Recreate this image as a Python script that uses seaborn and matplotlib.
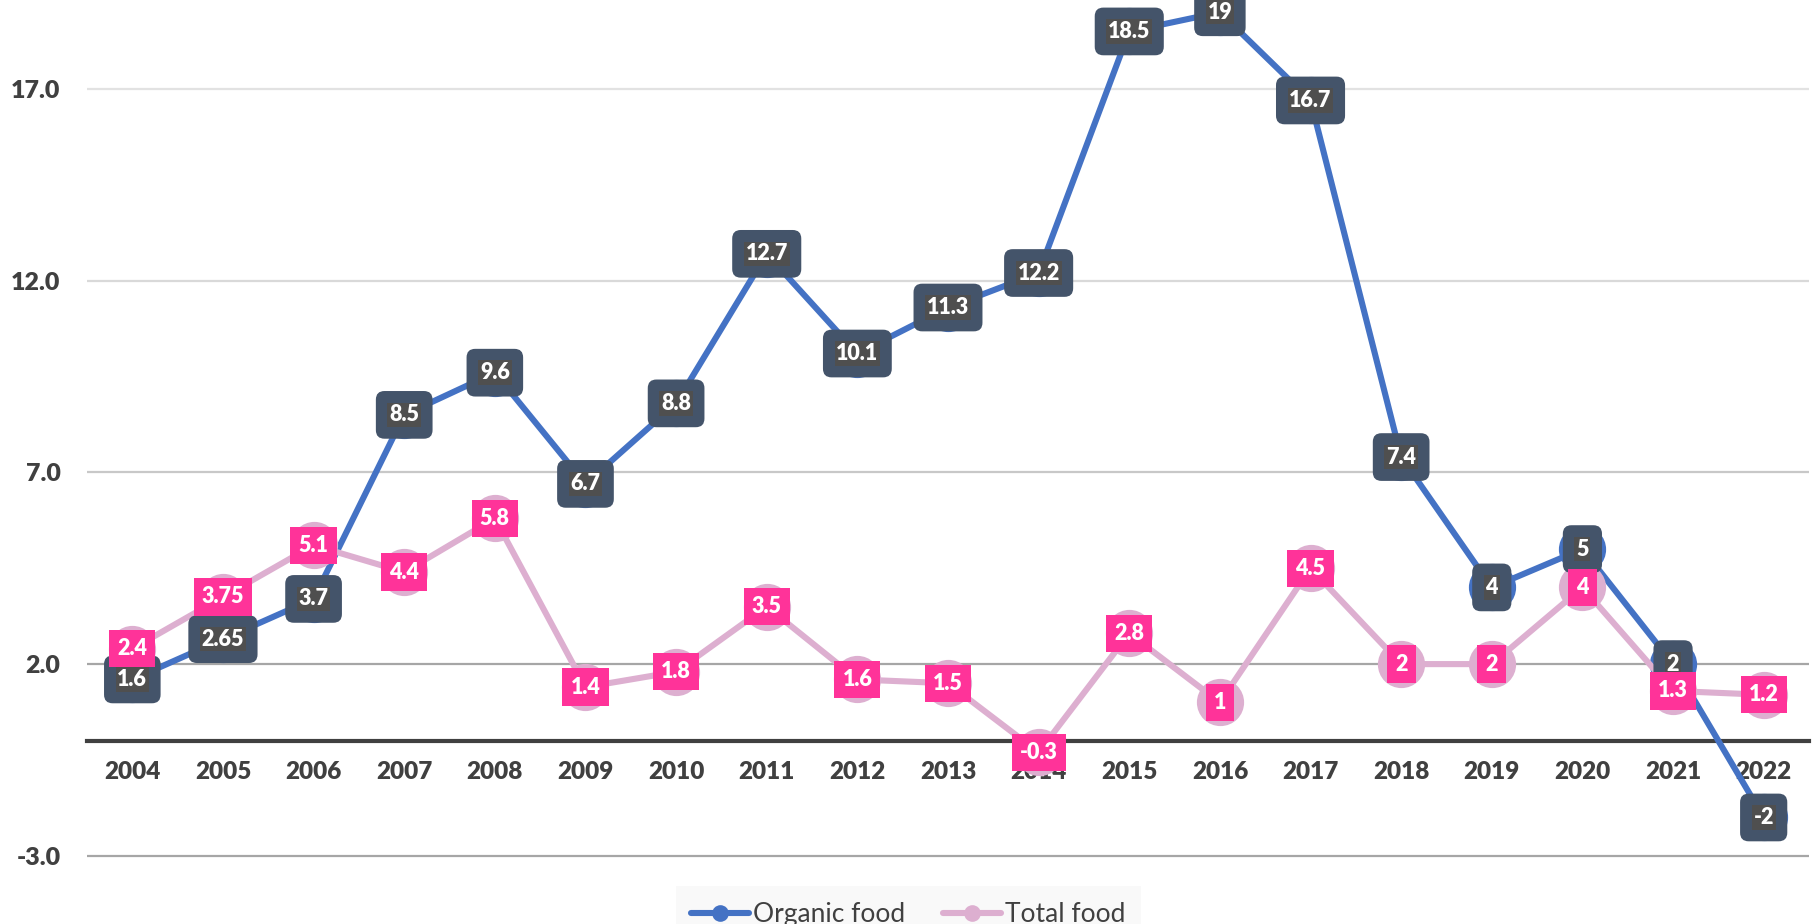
import pandas as pd
import matplotlib.pyplot as plt
import seaborn as sns
from matplotlib.lines import Line2D

# data
years = list(range(2004, 2023))
organic = [1.6, 2.65, 3.7, 8.5, 9.6, 6.7, 8.8, 12.7, 10.1, 11.3, 12.2,
           18.5, 19, 16.7, 7.4, 4, 5, 2, -2]
total = [2.4, 3.75, 5.1, 4.4, 5.8, 1.4, 1.8, 3.5, 1.6, 1.5, -0.3,
         2.8, 1, 4.5, 2, 2, 4, 1.3, 1.2]
series_names = ['Organic food', 'Total food']
y_ticks = [-3.0, 2.0, 7.0, 12.0, 17.0]

# long form table for seaborn
df = pd.DataFrame({
    'year': years * 2,
    'value': organic + total,
    'series': [series_names[0]] * len(years) + [series_names[1]] * len(years),
})

sns.set_theme(style='white')
plt.rcParams['font.family'] = ['Lato', 'DejaVu Sans']

palette = {'Organic food': '#4472C4', 'Total food': '#DDAFD0'}
text_col = '#404040'

fig = plt.figure(figsize=(18.2, 9.24), dpi=100)
ax = fig.add_axes([87 / 1820, 1 - 870 / 924, 1722 / 1820, 870 / 924])

sns.lineplot(data=df, x='year', y='value', hue='series', palette=palette,
             hue_order=series_names, marker='o', markersize=34,
             markeredgewidth=0, linewidth=4.4, legend=False, ax=ax, zorder=3)

ax.set_xlim(2003.5, 2022.5)
ax.set_ylim(-3.37, 19.32)

# gridlines get darker towards the bottom
grid_cols = ['#A6A6A6', '#A6A6A6', '#C8C8C8', '#D9D9D9', '#E2E2E2']
for t, c in zip(y_ticks, grid_cols):
    ax.axhline(t, color=c, lw=1.6, zorder=1)

for s in ['left', 'right', 'top']:
    ax.spines[s].set_visible(False)
ax.spines['bottom'].set_position(('data', 0))
ax.spines['bottom'].set_color(text_col)
ax.spines['bottom'].set_linewidth(3)
ax.spines['bottom'].set_zorder(2.5)

ax.set_xticks(years)
ax.set_xticklabels([str(y) for y in years])
ax.set_yticks(y_ticks)
ax.set_yticklabels([f'{t:.1f}' for t in y_ticks])
ax.tick_params(axis='x', length=0, pad=14.5, labelsize=17.5, labelcolor=text_col)
ax.tick_params(axis='y', length=0, pad=19, labelsize=18, labelcolor=text_col)
for lab in ax.get_xticklabels() + ax.get_yticklabels():
    lab.set_fontweight('heavy')
ax.set_xlabel('')
ax.set_ylabel('')

# data labels
for x, v in zip(years, organic):
    ax.text(x, v, f'{v:g}', ha='center', va='center', fontsize=15.5,
            fontweight='heavy', color='white', zorder=5, clip_on=False,
            bbox=dict(boxstyle='round,pad=0.62,rounding_size=0.4',
                      fc='#44546A', ec='none'))
    ax.text(x, v, f'{v:g}', ha='center', va='center', fontsize=15.5,
            fontweight='heavy', color='white', zorder=5.1, clip_on=False,
            bbox=dict(boxstyle='square,pad=0.08', fc='#4F4F4F', ec='none'))

for x, v in zip(years, total):
    ax.text(x, v, f'{v:g}', ha='center', va='center', fontsize=15.5,
            fontweight='heavy', color='white', zorder=6, clip_on=False,
            bbox=dict(boxstyle='square,pad=0.38', fc='#FF3399', ec='none'))

handles = [Line2D([0], [0], color=palette[n], lw=4.4, marker='o', markersize=12,
                  markeredgewidth=0) for n in series_names]
leg = fig.legend(handles, series_names, loc='upper center',
                 bbox_to_anchor=(0.499, 1 - 886 / 924), ncol=2, frameon=True,
                 fancybox=False, facecolor='#F8F8F8', edgecolor='none',
                 fontsize=19, handlelength=2.2, handletextpad=0.15,
                 columnspacing=1.4, borderpad=0.6, borderaxespad=0)
for t in leg.get_texts():
    t.set_color(text_col)

plt.savefig('out.png', dpi=100, facecolor='white')
